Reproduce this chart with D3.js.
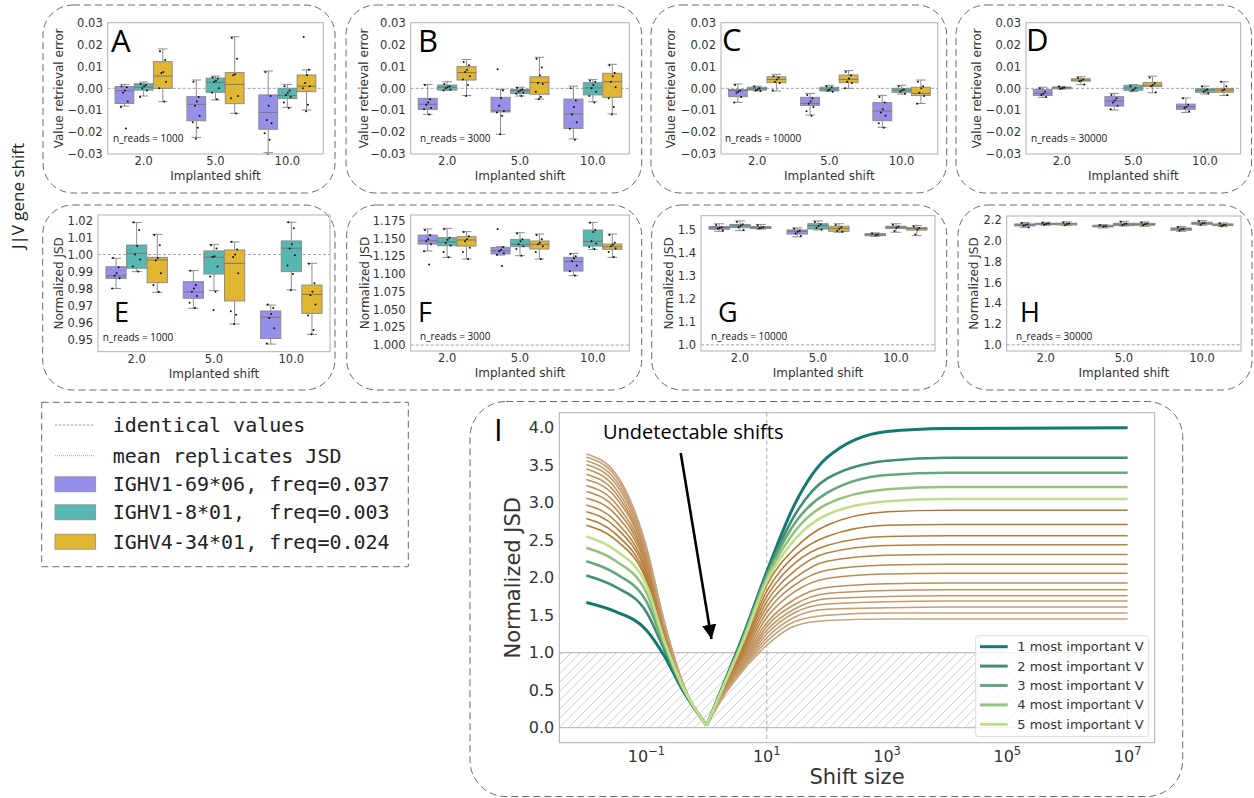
<!DOCTYPE html>
<html>
<head>
<meta charset="utf-8">
<script src="https://cdn.jsdelivr.net/npm/d3@7"></script>
<style>
  body { margin: 0; background: #fff; }
  svg { display: block; }
  text { font-family: "DejaVu Sans", sans-serif; fill: #333; }
</style>
</head>
<body>
<svg id="fig" width="1254" height="798"></svg>
<script>
// ---------- data ----------
const shifts = ["2.0", "5.0", "10.0"];
const genes = ["IGHV1-69*06, freq=0.037", "IGHV1-8*01,  freq=0.003", "IGHV4-34*01, freq=0.024"];
const geneColors = ["#9690ea", "#57b8b2", "#e1b732"];
const nReads = [1000, 3000, 10000, 30000];

const errTicks = [-0.03, -0.02, -0.01, 0, 0.01, 0.02, 0.03];
const jsdTicksE = [0.95, 0.96, 0.97, 0.98, 0.99, 1.0, 1.01, 1.02];
const jsdTicksF = [1.0, 1.025, 1.05, 1.075, 1.1, 1.125, 1.15, 1.175];
const jsdTicksG = [1.0, 1.1, 1.2, 1.3, 1.4, 1.5];
const jsdTicksH = [1.0, 1.2, 1.4, 1.6, 1.8, 2.0, 2.2];

// box stats [low whisker, q1, median, q3, high whisker]
// order: 2.0 (blue, teal, gold), 5.0 (...), 10.0 (...)
const statsA = [
  [-0.0081, -0.0069, -0.0011, 0.0008, 0.0018], [-0.0035, -0.0008, 0.0005, 0.0021, 0.0029], [-0.0061, 0.0, 0.0056, 0.0122, 0.018],
  [-0.0224, -0.0148, -0.0073, -0.0038, 0.0038], [-0.0053, -0.0018, 0.0027, 0.0047, 0.0056], [-0.0114, -0.007, 0.0018, 0.0072, 0.0236],
  [-0.0294, -0.0187, -0.011, -0.003, 0.0079], [-0.0087, -0.0047, -0.0033, 0.0, 0.0018], [-0.0099, -0.0015, 0.001, 0.0061, 0.0084]
];
const dotsA = [
  [0.001, 0.0005, -0.001, -0.002, -0.006, -0.0085, -0.0183], [0.002, 0.0015, 0.001, 0.0, -0.001, -0.004], [0.017, 0.013, 0.0075, 0.007, 0.003, 0.0, -0.006],
  [0.003, -0.004, -0.006, -0.008, -0.0125, -0.0155, -0.018, -0.023], [0.005, 0.0045, 0.0035, 0.003, 0.0, -0.002, -0.005], [0.023, 0.0135, 0.0065, 0.006, -0.0035, -0.0045, -0.0115],
  [0.0075, -0.0035, -0.008, -0.0145, -0.016, -0.0205, -0.0235, -0.03], [0.001, -0.001, -0.002, -0.003, -0.004, -0.0065, -0.009], [0.0235, 0.0085, 0.006, 0.0025, 0.001, 0.0, -0.0075, -0.0105]
];
const statsB = [
  [-0.0119, -0.0096, -0.0073, -0.0046, 0.0018], [-0.001, -0.0008, 0.0005, 0.0015, 0.003], [-0.0033, 0.0038, 0.0072, 0.0099, 0.0132],
  [-0.021, -0.0108, -0.0102, -0.0041, -0.0005], [-0.0035, -0.0023, -0.001, -0.0005, 0.0005], [-0.0049, -0.0027, 0.0027, 0.0053, 0.0142],
  [-0.0231, -0.0183, -0.0117, -0.0049, 0.001], [-0.0061, -0.003, 0.0002, 0.0026, 0.0041], [-0.0117, -0.0041, 0.003, 0.0069, 0.011]
];
const dotsB = [
  [0.0015, -0.005, -0.0065, -0.0075, -0.009, -0.0095, -0.012], [0.002, 0.001, 0.0005, 0.0, -0.0005, -0.001], [0.012, 0.0105, 0.0085, 0.0075, 0.0055, 0.004, 0.0015, -0.0035],
  [0.0087, -0.001, -0.0045, -0.008, -0.0105, -0.011, -0.0125, -0.021], [0.0003, -0.0005, -0.001, -0.0015, -0.002, -0.0025, -0.0035], [0.0135, 0.0095, 0.006, 0.0025, 0.002, -0.0015, -0.004, -0.005],
  [0.0, -0.0055, -0.0085, -0.012, -0.0155, -0.0185, -0.0235], [0.0035, 0.003, 0.0015, 0.0, -0.0015, -0.0035, -0.0065], [0.0105, 0.007, 0.0055, 0.003, 0.0005, -0.0045, -0.0085, -0.012]
];
const statsC = [
  [-0.0064, -0.0038, -0.001, -0.0005, 0.002], [-0.0012, -0.0008, -0.0002, 0.0005, 0.001], [-0.0012, 0.0026, 0.0041, 0.0053, 0.0064],
  [-0.0122, -0.0078, -0.0069, -0.0041, -0.0023], [-0.0014, -0.0012, -0.0003, 0.0005, 0.0014], [0.0, 0.0026, 0.0041, 0.0061, 0.0081],
  [-0.0178, -0.0148, -0.0104, -0.0065, -0.0032], [-0.0026, -0.0018, -0.0008, 0.0, 0.0014], [-0.0069, -0.0033, -0.0023, 0.0005, 0.0038]
];
const dotsC = [
  [0.0015, -0.001, -0.0015, -0.002, -0.004, -0.0065], [0.0008, 0.0, -0.0005, -0.001, -0.0012], [0.0055, 0.005, 0.004, 0.003, 0.0025, -0.001],
  [-0.003, -0.0045, -0.006, -0.007, -0.0085, -0.0105, -0.0125], [0.001, 0.0005, -0.0005, -0.001, -0.0015], [0.0075, 0.006, 0.0045, 0.003, 0.0025, 0.0],
  [-0.004, -0.0065, -0.0095, -0.011, -0.0125, -0.016, -0.018], [0.001, -0.0005, -0.001, -0.0015, -0.0025], [0.003, 0.001, 0.0, -0.002, -0.0035, -0.007]
];
const statsD = [
  [-0.0041, -0.0033, -0.0023, -0.0005, 0.0005], [-0.0003, -0.0002, 0.0003, 0.0006, 0.0009], [0.0017, 0.0033, 0.0038, 0.0044, 0.0053],
  [-0.0099, -0.0081, -0.0058, -0.0038, -0.0023], [-0.0015, -0.0009, 0.0002, 0.0014, 0.0017], [-0.002, 0.0008, 0.0015, 0.0027, 0.0056],
  [-0.011, -0.0096, -0.0084, -0.0072, -0.0044], [-0.0026, -0.0018, -0.0008, -0.0002, 0.001], [-0.0033, -0.0018, -0.0008, 0.0, 0.003]
];
const dotsD = [
  [0.0, -0.0015, -0.0025, -0.003, -0.004], [0.0008, 0.0003, 0.0, -0.0002], [0.0048, 0.004, 0.0035, 0.0032, 0.0018],
  [-0.003, -0.0045, -0.0055, -0.0065, -0.008, -0.0095], [0.001, 0.0002, -0.0005, -0.001], [0.005, 0.0025, 0.0015, 0.001, -0.0018],
  [-0.0045, -0.0075, -0.0085, -0.009, -0.0105], [0.0008, -0.0005, -0.001, -0.0015, -0.0022], [0.003, 0.001, -0.0005, -0.001, -0.003]
];
const statsE = [
  [0.98, 0.9859, 0.9874, 0.9928, 0.9978], [0.9899, 0.9919, 1.0007, 1.0056, 1.0188], [0.9777, 0.9834, 0.9968, 0.9983, 1.0119],
  [0.9683, 0.9742, 0.9779, 0.984, 0.9905], [0.9787, 0.9885, 0.9984, 1.0021, 1.006], [0.959, 0.9726, 0.9948, 1.0027, 1.0074],
  [0.9472, 0.9505, 0.963, 0.9667, 0.9702], [0.9791, 0.9899, 1.0037, 1.008, 1.019], [0.9529, 0.9653, 0.9765, 0.982, 0.9948]
];
const dotsE = [
  [0.998, 0.9925, 0.989, 0.9875, 0.986, 0.98], [1.019, 1.0145, 1.005, 1.0, 0.997, 0.993, 0.99], [1.0115, 1.0055, 0.998, 0.9965, 0.989, 0.982, 0.978],
  [0.9905, 0.982, 0.98, 0.978, 0.9755, 0.9715, 0.9685], [1.0055, 1.0035, 0.999, 0.9985, 0.993, 0.987, 0.978, 0.9673], [1.0075, 1.003, 1.0, 0.9985, 0.989, 0.9665, 0.9645, 0.959],
  [0.9705, 0.9685, 0.965, 0.9625, 0.9565, 0.9475], [1.019, 1.0155, 1.006, 1.0035, 0.9995, 0.9935, 0.9885, 0.979], [0.9945, 0.983, 0.978, 0.976, 0.9705, 0.964, 0.9555, 0.953]
];
const statsF = [
  [1.1323, 1.1421, 1.1468, 1.1548, 1.1633], [1.1234, 1.1398, 1.1449, 1.1511, 1.1642], [1.121, 1.1393, 1.1478, 1.1525, 1.1595],
  [1.1266, 1.1281, 1.1327, 1.1374, 1.1384], [1.1257, 1.1384, 1.1417, 1.1487, 1.1581], [1.121, 1.1351, 1.1417, 1.1464, 1.1562],
  [1.0976, 1.1041, 1.1173, 1.1234, 1.129], [1.1346, 1.1393, 1.1459, 1.1618, 1.1726], [1.1234, 1.1346, 1.1384, 1.1421, 1.1562]
];
const dotsF = [
  [1.162, 1.155, 1.149, 1.146, 1.142, 1.132, 1.1135], [1.163, 1.151, 1.148, 1.144, 1.14, 1.131, 1.1234], [1.159, 1.153, 1.149, 1.146, 1.137, 1.131, 1.121],
  [1.1633, 1.138, 1.134, 1.132, 1.129, 1.127, 1.1112], [1.157, 1.149, 1.146, 1.142, 1.139, 1.135, 1.1257], [1.155, 1.149, 1.144, 1.142, 1.139, 1.131, 1.121],
  [1.128, 1.125, 1.122, 1.118, 1.112, 1.104, 1.098], [1.172, 1.162, 1.159, 1.146, 1.143, 1.138, 1.135], [1.155, 1.144, 1.141, 1.139, 1.136, 1.131, 1.124]
];
const statsG = [
  [1.494, 1.503, 1.509, 1.515, 1.527], [1.497, 1.51, 1.519, 1.524, 1.539], [1.503, 1.506, 1.51, 1.515, 1.524],
  [1.47, 1.482, 1.494, 1.5, 1.509], [1.5, 1.504, 1.519, 1.527, 1.539], [1.49, 1.494, 1.507, 1.516, 1.527],
  [1.472, 1.475, 1.479, 1.484, 1.487], [1.49, 1.506, 1.512, 1.516, 1.527], [1.475, 1.499, 1.506, 1.51, 1.519]
];
const dotsG = [
  [1.522, 1.512, 1.508, 1.505, 1.498], [1.535, 1.525, 1.518, 1.512, 1.5], [1.52, 1.513, 1.51, 1.507],
  [1.505, 1.498, 1.492, 1.485, 1.474], [1.535, 1.525, 1.517, 1.508, 1.502], [1.522, 1.512, 1.505, 1.497, 1.492],
  [1.484, 1.48, 1.477], [1.523, 1.515, 1.51, 1.495], [1.515, 1.508, 1.502, 1.48]
];
const statsH = [
  [2.126, 2.142, 2.152, 2.162, 2.174], [2.149, 2.155, 2.162, 2.168, 2.178], [2.146, 2.152, 2.162, 2.168, 2.181],
  [2.123, 2.133, 2.139, 2.149, 2.155], [2.142, 2.146, 2.158, 2.168, 2.187], [2.139, 2.149, 2.158, 2.168, 2.181],
  [2.091, 2.101, 2.113, 2.123, 2.136], [2.149, 2.158, 2.168, 2.178, 2.194], [2.136, 2.146, 2.152, 2.162, 2.171]
];
const dotsH = [
  [2.17, 2.158, 2.15, 2.145, 2.13], [2.174, 2.165, 2.16, 2.153], [2.176, 2.165, 2.16, 2.15],
  [2.15, 2.14, 2.136], [2.182, 2.165, 2.158, 2.148], [2.176, 2.165, 2.158, 2.15],
  [2.13, 2.115, 2.11, 2.098], [2.188, 2.172, 2.165, 2.155], [2.165, 2.155, 2.15, 2.14]
];

// panel I: normalized JSD vs shift size, one row per curve at shiftSizes
const shiftSizes = [0.01, 0.03, 0.1, 0.2, 0.4, 1, 2, 4, 10, 30, 100, 1e3, 1e4, 1e7];
const topCurves = [
  [1.67, 1.55, 1.3, 0.95, 0.5, 0.03, 0.62, 1.22, 2.08, 3.0, 3.6, 3.95, 3.99, 4.0],
  [2.03, 1.88, 1.54, 1.03, 0.52, 0.03, 0.61, 1.2, 2.05, 2.85, 3.32, 3.56, 3.6, 3.6],
  [2.22, 2.06, 1.68, 1.08, 0.53, 0.03, 0.6, 1.18, 2.02, 2.74, 3.13, 3.37, 3.4, 3.4],
  [2.4, 2.23, 1.8, 1.12, 0.54, 0.03, 0.6, 1.16, 1.99, 2.63, 2.98, 3.18, 3.21, 3.21],
  [2.55, 2.37, 1.9, 1.15, 0.55, 0.03, 0.59, 1.14, 1.95, 2.52, 2.84, 3.02, 3.05, 3.05]
];
const otherCurves = [
  [2.7, 2.51, 1.96, 1.16, 0.55, 0.03, 0.57, 1.1, 1.9, 2.4, 2.7, 2.88, 2.9, 2.9],
  [2.79, 2.59, 2.0, 1.19, 0.55, 0.03, 0.56, 1.07, 1.82, 2.3, 2.55, 2.7, 2.71, 2.71],
  [2.88, 2.68, 2.05, 1.21, 0.56, 0.03, 0.55, 1.04, 1.75, 2.2, 2.43, 2.55, 2.56, 2.56],
  [2.97, 2.76, 2.09, 1.24, 0.56, 0.03, 0.54, 1.01, 1.68, 2.1, 2.33, 2.43, 2.44, 2.44],
  [3.06, 2.85, 2.14, 1.26, 0.57, 0.03, 0.53, 0.98, 1.61, 2.0, 2.22, 2.3, 2.31, 2.31],
  [3.15, 2.93, 2.18, 1.28, 0.57, 0.03, 0.52, 0.95, 1.54, 1.91, 2.1, 2.17, 2.18, 2.18],
  [3.23, 3.0, 2.22, 1.3, 0.58, 0.03, 0.51, 0.92, 1.47, 1.82, 1.99, 2.05, 2.06, 2.06],
  [3.31, 3.08, 2.26, 1.32, 0.58, 0.03, 0.5, 0.89, 1.4, 1.72, 1.87, 1.92, 1.93, 1.93],
  [3.38, 3.14, 2.29, 1.34, 0.59, 0.03, 0.49, 0.86, 1.35, 1.65, 1.79, 1.83, 1.84, 1.84],
  [3.45, 3.2, 2.32, 1.36, 0.59, 0.03, 0.48, 0.84, 1.3, 1.59, 1.72, 1.75, 1.76, 1.76],
  [3.51, 3.26, 2.35, 1.37, 0.6, 0.03, 0.47, 0.82, 1.25, 1.54, 1.65, 1.68, 1.69, 1.69],
  [3.56, 3.31, 2.37, 1.38, 0.6, 0.03, 0.46, 0.8, 1.2, 1.48, 1.58, 1.6, 1.61, 1.61],
  [3.61, 3.36, 2.39, 1.39, 0.6, 0.03, 0.45, 0.78, 1.15, 1.42, 1.5, 1.53, 1.53, 1.53],
  [3.65, 3.4, 2.41, 1.4, 0.6, 0.03, 0.44, 0.76, 1.1, 1.36, 1.43, 1.45, 1.45, 1.45]
];
const topLabels = ["1 most important V", "2 most important V", "3 most important V", "4 most important V", "5 most important V"];
const topColors = ["#137a6f", "#3f8f74", "#66a87b", "#95c27f", "#c3de88"];
const jsdTicksI = [0, 0.5, 1, 1.5, 2, 2.5, 3, 3.5, 4];
const logTicksI = [-1, 1, 3, 5, 7];

// ---------- layout ----------
const svg = d3.select("#fig");
const JIT = [-0.3, 0.25, 0.05, -0.15, 0.35, -0.38, 0.15, -0.05, 0.3, -0.22];
const frameStyle = s => s.attr("fill", "none").attr("stroke", "#6a6a6a").attr("stroke-width", 1).attr("stroke-dasharray", "7,4");

const panels = [
  {L: "A", st: statsA, dots: dotsA, n: 0, frame: [43, 5, 335, 193], ax: [107.7, 22.7, 323.3, 154], dom: [-0.03, 0.03], ticks: errTicks, fmt: ".2f", ylab: "Value retrieval error", ylx: 58.3, ref: 0, let: [111, 51.5], ls: 31, note: [113, 141.5]},
  {L: "B", st: statsB, dots: dotsB, n: 1, frame: [346, 5, 641.7, 193], ax: [410.7, 22.7, 629.3, 154], dom: [-0.03, 0.03], ticks: errTicks, fmt: ".2f", ylab: "Value retrieval error", ylx: 364, ref: 0, let: [418, 51.5], ls: 31, note: [420, 141.5]},
  {L: "C", st: statsC, dots: dotsC, n: 2, frame: [651, 5, 946.7, 193], ax: [721, 22.7, 937.7, 154], dom: [-0.03, 0.03], ticks: errTicks, fmt: ".2f", ylab: "Value retrieval error", ylx: 670.7, ref: 0, let: [722, 51], ls: 31, note: [725, 141.5]},
  {L: "D", st: statsD, dots: dotsD, n: 3, frame: [956, 5, 1251.5, 193], ax: [1026, 22.7, 1240.7, 154], dom: [-0.03, 0.03], ticks: errTicks, fmt: ".2f", ylab: "Value retrieval error", ylx: 976.7, ref: 0, let: [1026, 51], ls: 31, note: [1031, 141.5]},
  {L: "E", st: statsE, dots: dotsE, n: 0, frame: [42.7, 205, 335, 390], ax: [98, 215, 330, 351.7], dom: [0.9427, 1.0233], ticks: jsdTicksE, fmt: ".2f", ylab: "Normalized JSD", ylx: 58.3, ref: 1, let: [114, 321.5], ls: 27, note: [102.7, 340.5]},
  {L: "F", st: statsF, dots: dotsF, n: 1, frame: [346.7, 205, 641.7, 390], ax: [410.7, 215, 629.3, 351], dom: [0.9916, 1.183], ticks: jsdTicksF, fmt: ".3f", ylab: "Normalized JSD", ylx: 365, ref: 1, let: [418, 321.5], ls: 27, note: [420, 340]},
  {L: "G", st: statsG, dots: dotsG, n: 2, frame: [651.7, 205, 946.7, 390], ax: [701, 215.7, 935, 351], dom: [0.973, 1.562], ticks: jsdTicksG, fmt: ".1f", ylab: "Normalized JSD", ylx: 669, ref: 1, let: [718, 321.5], ls: 27, note: [711, 340]},
  {L: "H", st: statsH, dots: dotsH, n: 3, frame: [958, 205, 1252, 390], ax: [1006.7, 216, 1241, 351], dom: [0.94, 2.238], ticks: jsdTicksH, fmt: ".1f", ylab: "Normalized JSD", ylx: 974, ref: 1, let: [1020, 321.5], ls: 27, note: [1016, 340]}
];

function boxPanel(p) {
  const g = svg.append("g");
  g.append("rect")
    .attr("x", p.frame[0]).attr("y", p.frame[1])
    .attr("width", p.frame[2] - p.frame[0]).attr("height", p.frame[3] - p.frame[1])
    .attr("rx", 30).call(frameStyle);

  const x = d3.scaleBand().domain(shifts).range([p.ax[0], p.ax[2]]);
  const y = d3.scaleLinear().domain(p.dom).range([p.ax[3], p.ax[1]]);
  const band = x.bandwidth(), hw = band * 0.8 / 3;

  // reference line
  g.append("line")
    .attr("x1", p.ax[0]).attr("x2", p.ax[2]).attr("y1", y(p.ref)).attr("y2", y(p.ref))
    .attr("stroke", "#8a8a8a").attr("stroke-width", 0.8).attr("stroke-dasharray", "3,2");

  p.st.forEach((s, i) => {
    const cx = x(shifts[Math.floor(i / 3)]) + band / 2 + (i % 3 - 1) * hw;
    const w = hw * 0.98;
    const b = g.append("g");
    b.append("line").attr("x1", cx).attr("x2", cx).attr("y1", y(s[0])).attr("y2", y(s[1]))
      .attr("stroke", "#8c8c8c").attr("stroke-width", 1);
    b.append("line").attr("x1", cx).attr("x2", cx).attr("y1", y(s[3])).attr("y2", y(s[4]))
      .attr("stroke", "#8c8c8c").attr("stroke-width", 1);
    [s[0], s[4]].forEach(v => {
      b.append("line").attr("x1", cx - w / 4).attr("x2", cx + w / 4).attr("y1", y(v)).attr("y2", y(v))
        .attr("stroke", "#8c8c8c").attr("stroke-width", 1);
    });
    b.append("rect")
      .attr("x", cx - w / 2).attr("y", y(s[3]))
      .attr("width", w).attr("height", Math.max(1, y(s[1]) - y(s[3])))
      .attr("fill", geneColors[i % 3]).attr("stroke", "#8c8c8c").attr("stroke-width", 1);
    b.append("line").attr("x1", cx - w / 2).attr("x2", cx + w / 2).attr("y1", y(s[2])).attr("y2", y(s[2]))
      .attr("stroke", "#777").attr("stroke-width", 1);
    b.selectAll("circle").data(p.dots[i]).enter().append("circle")
      .attr("cx", (d, j) => cx + JIT[j % JIT.length] * w * 0.5)
      .attr("cy", d => y(d))
      .attr("r", 1.0).attr("fill", "#111");
  });

  // axes frame
  g.append("rect")
    .attr("x", p.ax[0]).attr("y", p.ax[1])
    .attr("width", p.ax[2] - p.ax[0]).attr("height", p.ax[3] - p.ax[1])
    .attr("fill", "none").attr("stroke", "#b0b0b0").attr("stroke-width", 1);

  const ya = g.append("g").attr("transform", `translate(${p.ax[0]},0)`)
    .call(d3.axisLeft(y).tickValues(p.ticks).tickFormat(d3.format(p.fmt)).tickSize(0).tickPadding(5));
  const xa = g.append("g").attr("transform", `translate(0,${p.ax[3]})`)
    .call(d3.axisBottom(x).tickSize(0).tickPadding(3));
  [ya, xa].forEach(a => {
    a.select(".domain").remove();
    a.selectAll("text").attr("font-size", "11.5px").attr("font-family", "DejaVu Sans").style("fill", "#333");
  });

  g.append("text")
    .attr("x", (p.ax[0] + p.ax[2]) / 2).attr("y", p.ax[3] + 26)
    .attr("text-anchor", "middle").attr("font-size", "12px")
    .text("Implanted shift");
  g.append("text")
    .attr("transform", `translate(${p.ylx},${(p.ax[1] + p.ax[3]) / 2}) rotate(-90)`)
    .attr("text-anchor", "middle").attr("dy", "0.35em").attr("font-size", "12px")
    .text(p.ylab);
  g.append("text")
    .attr("x", p.note[0]).attr("y", p.note[1])
    .attr("font-size", "10px").style("font-family", "'Open Sans'").style("fill", "#111")
    .text("n_reads = " + nReads[p.n]);
  g.append("text")
    .attr("x", p.let[0]).attr("y", p.let[1])
    .attr("font-size", p.ls + "px").style("font-family", "'Open Sans'").style("fill", "#000")
    .text(p.L);
}
panels.forEach(boxPanel);

// side title
svg.append("text")
  .attr("transform", "translate(24,196) rotate(-90)")
  .attr("text-anchor", "middle").attr("font-size", "17px")
  .style("font-family", "'Open Sans'").style("fill", "#222")
  .text("J|V gene shift");

// ---------- shared legend ----------
const lg = svg.append("g");
lg.append("rect").attr("x", 41.7).attr("y", 402.3).attr("width", 366.6).attr("height", 164.4).call(frameStyle);
const legRows = [425, 455.7, 484.3, 512.3, 541.7];
lg.append("line").attr("x1", 55).attr("x2", 95).attr("y1", legRows[0]).attr("y2", legRows[0])
  .attr("stroke", "#999").attr("stroke-width", 1).attr("stroke-dasharray", "2.5,1.5");
lg.append("line").attr("x1", 55).attr("x2", 95).attr("y1", legRows[1]).attr("y2", legRows[1])
  .attr("stroke", "#aaa").attr("stroke-width", 1).attr("stroke-dasharray", "1,1");
genes.forEach((gname, i) => {
  lg.append("rect").attr("x", 55).attr("y", legRows[i + 2] - 7.5).attr("width", 40.7).attr("height", 15)
    .attr("fill", geneColors[i]).attr("stroke", "#8c8c8c").attr("stroke-width", 0.8);
});
["identical values", "mean replicates JSD"].concat(genes).forEach((t, i) => {
  lg.append("text").attr("x", 112.7).attr("y", legRows[i]).attr("dy", "0.35em")
    .attr("font-size", "20px").style("font-family", "'DejaVu Sans Mono'").style("fill", "#222")
    .attr("xml:space", "preserve").style("white-space", "pre")
    .text(t);
});

// ---------- panel I ----------
const gi = svg.append("g");
gi.append("rect").attr("x", 470).attr("y", 401.5).attr("width", 712.7).attr("height", 395).attr("rx", 36).call(frameStyle);

const ix = d3.scaleLog().domain([Math.pow(10, -2.45), Math.pow(10, 7.45)]).range([559.3, 1154.7]);
const iy = d3.scaleLinear().domain([-0.2, 4.2]).range([742.7, 412.7]);

const defs = svg.append("defs");
defs.append("clipPath").attr("id", "clipI").append("rect")
  .attr("x", 559.3).attr("y", 412.7).attr("width", 595.4).attr("height", 330);
const pat = defs.append("pattern").attr("id", "hatch").attr("patternUnits", "userSpaceOnUse")
  .attr("width", 9).attr("height", 9);
pat.append("path").attr("d", "M-1,1 l2,-2 M0,9 l9,-9 M8,10 l2,-2")
  .attr("stroke", "#c4c4c4").attr("stroke-width", 0.8);
defs.append("marker").attr("id", "arrowhead").attr("viewBox", "0 0 10 10")
  .attr("refX", 10).attr("refY", 5).attr("markerWidth", 5.5).attr("markerHeight", 5.5)
  .attr("markerUnits", "strokeWidth").attr("orient", "auto")
  .append("path").attr("d", "M0,0 L10,5 L0,10 z").attr("fill", "#000");

const plotI = gi.append("g").attr("clip-path", "url(#clipI)");
plotI.append("rect")
  .attr("x", 559.3).attr("y", iy(1)).attr("width", ix(1e7) - 559.3).attr("height", iy(0) - iy(1))
  .attr("fill", "url(#hatch)").attr("stroke", "#b0b0b0").attr("stroke-width", 1);
plotI.append("line").attr("x1", ix(10)).attr("x2", ix(10)).attr("y1", 412.7).attr("y2", 742.7)
  .attr("stroke", "#aaa").attr("stroke-width", 1).attr("stroke-dasharray", "4,3");

const lineI = d3.line().x(d => ix(d[0])).y(d => iy(d[1])).curve(d3.curveMonotoneX);
function drawCurve(vals, color, width) {
  const pts = shiftSizes.map((s, k) => [s, vals[k]]);
  const left = pts.slice(0, 6), right = pts.slice(5);
  [left, right].forEach(part => {
    plotI.append("path").attr("d", lineI(part)).attr("fill", "none")
      .attr("stroke", color).attr("stroke-width", width).attr("stroke-linejoin", "round");
  });
}
const brown = d3.interpolateRgb("#b3772d", "#c8a47c");
otherCurves.forEach((c, k) => drawCurve(c, brown(k / (otherCurves.length - 1)), 1.6));
topCurves.forEach((c, k) => drawCurve(c, topColors[k], k === 0 ? 3 : 2.6));

gi.append("rect").attr("x", 559.3).attr("y", 412.7).attr("width", 595.4).attr("height", 330)
  .attr("fill", "none").attr("stroke", "#b0b0b0").attr("stroke-width", 1);

const iya = gi.append("g").attr("transform", "translate(559.3,0)")
  .call(d3.axisLeft(iy).tickValues(jsdTicksI).tickFormat(d3.format(".1f")).tickSize(0).tickPadding(5));
iya.select(".domain").remove();
iya.selectAll("text").attr("font-size", "16px").style("fill", "#333");

const ixa = gi.append("g");
logTicksI.forEach(e => {
  const t = ixa.append("text").attr("x", ix(Math.pow(10, e))).attr("y", 762)
    .attr("text-anchor", "middle").attr("font-size", "16px");
  t.append("tspan").text("10");
  t.append("tspan").attr("dy", -7).attr("font-size", "11.5px").text(e < 0 ? "\u2212" + (-e) : String(e));
});

gi.append("text").attr("x", 857).attr("y", 784).attr("text-anchor", "middle")
  .attr("font-size", "21px").text("Shift size");
gi.append("text").attr("transform", "translate(513,577.7) rotate(-90)")
  .attr("text-anchor", "middle").attr("dy", "0.35em").attr("font-size", "21px").text("Normalized JSD");

gi.append("text").attr("x", 494).attr("y", 440.5).attr("font-size", "31px")
  .style("font-family", "'Open Sans'").style("fill", "#000").text("I");
gi.append("text").attr("x", 603).attr("y", 439).attr("font-size", "20px")
  .style("font-family", "'Open Sans'").style("fill", "#000").text("Undetectable shifts");
gi.append("line").attr("x1", 680.7).attr("y1", 453).attr("x2", 711.5).attr("y2", 639)
  .attr("stroke", "#000").attr("stroke-width", 2.6).attr("marker-end", "url(#arrowhead)");

// legend of panel I
const li = gi.append("g");
li.append("rect").attr("x", 975.7).attr("y", 635.7).attr("width", 172.6).attr("height", 101)
  .attr("rx", 3).attr("fill", "#fff").attr("fill-opacity", 0.8).attr("stroke", "#dcdcdc");
topLabels.forEach((t, k) => {
  const yy = 646.7 + k * 19.4;
  li.append("line").attr("x1", 980).attr("x2", 1007.7).attr("y1", yy).attr("y2", yy)
    .attr("stroke", topColors[k]).attr("stroke-width", 3);
  li.append("text").attr("x", 1017.3).attr("y", yy).attr("dy", "0.35em")
    .attr("font-size", "13px").text(t);
});
</script>
</body>
</html>
